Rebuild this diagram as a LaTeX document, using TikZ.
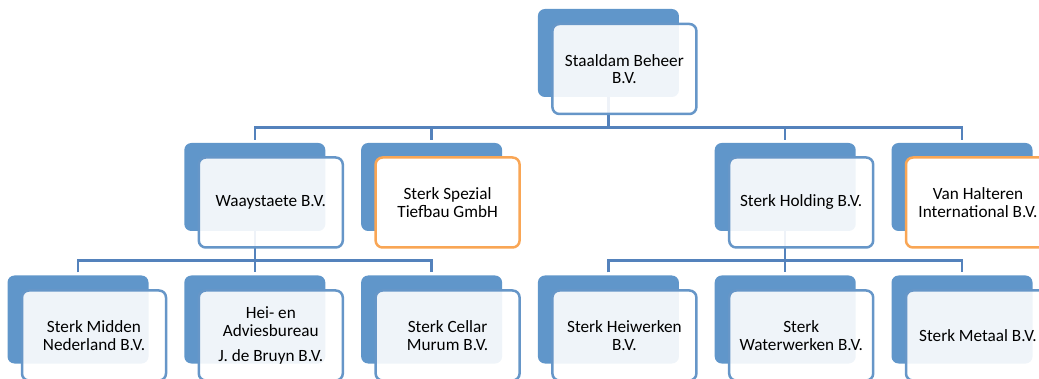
\documentclass[tikz,border=0pt]{standalone}
\usepackage{fontspec}
\setmainfont{Carlito}
\definecolor{unitblue}{RGB}{96,150,202}
\definecolor{frameblue}{RGB}{102,150,200}
\definecolor{linkblue}{RGB}{84,130,188}
\definecolor{extorange}{RGB}{249,166,85}

\begin{document}
\begin{tikzpicture}[x=1pt,y=-1pt,
	back/.style={fill=unitblue,rounded corners=7pt,minimum width=141pt,minimum height=88pt,inner sep=0pt},
	front/.style={draw=frameblue,line width=2.5pt,fill=white,fill opacity=0.9,text opacity=1,rounded corners=7pt,
		minimum width=144pt,minimum height=90pt,inner sep=0pt,align=center,font=\fontsize{17.2}{17.6}\selectfont},
	foreign/.style={front,draw=extorange,fill opacity=1},
	link/.style={draw=linkblue,line width=2.5pt}]
	\useasboundingbox (0,0) rectangle (1039,379);
	
	%back plates
	\node[back] (staaldamB) at (608.4,53) {};
	
	\node[back] (waayB) at (254.8,187) {};
	\node[back] (spezialB) at (431.6,187) {};
	\node[back] (holdingB) at (785.2,187) {};
	\node[back] (halterenB) at (962.0,187) {};
	
	\node[back] (middenB) at (78.0,319.5) {};
	\node[back] (bruynB) at (254.8,319.5) {};
	\node[back] (cellarB) at (431.6,319.5) {};
	\node[back] (heiwerkenB) at (608.4,319.5) {};
	\node[back] (waterB) at (785.2,319.5) {};
	\node[back] (metaalB) at (962.0,319.5) {};
	
	\coordinate (bus1) at (0,127.7);
	\coordinate (bus2) at (0,260.7);
	
	%links Staaldam
	\draw[link] (staaldamB.south) -- (staaldamB.south |- bus1);
	\draw[link] ([yshift=3pt]waayB.north) -- (waayB.north |- bus1) -- (halterenB.north |- bus1) -- ([yshift=3pt]halterenB.north);
	\draw[link] (spezialB.north |- bus1) -- ([yshift=3pt]spezialB.north);
	\draw[link] (holdingB.north |- bus1) -- ([yshift=3pt]holdingB.north);
	
	%links Waaystaete
	\draw[link] (waayB.south) -- (waayB.south |- bus2);
	\draw[link] ([yshift=3pt]middenB.north) -- (middenB.north |- bus2) -- (cellarB.north |- bus2) -- ([yshift=3pt]cellarB.north);
	\draw[link] (bruynB.north |- bus2) -- ([yshift=3pt]bruynB.north);
	
	%links Sterk Holding
	\draw[link] (holdingB.south) -- (holdingB.south |- bus2);
	\draw[link] ([yshift=3pt]heiwerkenB.north) -- (heiwerkenB.north |- bus2) -- (metaalB.north |- bus2) -- ([yshift=3pt]metaalB.north);
	\draw[link] (waterB.north |- bus2) -- ([yshift=3pt]waterB.north);
	
	%front plates
	\node[front] (staaldam) at (624.4,69) {Staaldam Beheer\\B.V.};
	
	\node[front] (waay) at (270.8,202.5) {Waaystaete B.V.};
	\node[foreign] (spezial) at (447.6,202.5) {Sterk Spezial\\Tiefbau GmbH};
	\node[front] (holding) at (801.2,202.5) {Sterk Holding B.V.};
	\node[foreign] (halteren) at (978.0,202.5) {Van Halteren\\International B.V.};
	
	\node[front] (midden) at (94.0,335.5) {Sterk Midden\\Nederland B.V.};
	\node[front] (bruyn) at (270.8,335.5) {Hei- en\\Adviesbureau\\[7pt]J. de Bruyn B.V.};
	\node[front] (cellar) at (447.6,335.5) {Sterk Cellar\\Murum B.V.};
	\node[front] (heiwerken) at (624.4,335.5) {Sterk Heiwerken\\B.V.};
	\node[front] (water) at (801.2,335.5) {Sterk\\Waterwerken B.V.};
	\node[front] (metaal) at (978.0,335.5) {Sterk Metaal B.V.};
\end{tikzpicture}
\end{document}
